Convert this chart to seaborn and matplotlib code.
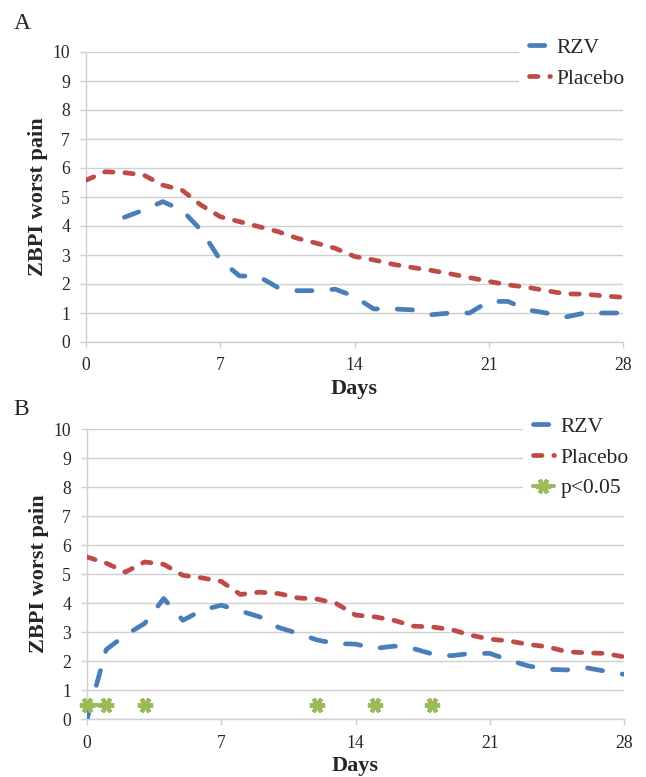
import numpy as np
import pandas as pd
import matplotlib
matplotlib.use("Agg")
import matplotlib.pyplot as plt
import seaborn as sns

# ---------------- data ----------------
days = list(range(0, 29))
nan = np.nan

rzv_a = [nan, nan, 4.30, 4.55, 4.84, 4.55, 3.86, 2.83, 2.28, 2.26, 1.88, 1.77, 1.77, 1.82,
         1.57, 1.14, 1.14, 1.11, 0.94, 1.00, 1.00, 1.40, 1.40, 1.11, 1.00, 0.86, 1.00, 1.00, 1.00]
placebo_a = [5.58, 5.87, 5.84, 5.76, 5.41, 5.24, 4.72, 4.32, 4.15, 3.98, 3.81, 3.58, 3.41, 3.23,
             2.95, 2.83, 2.68, 2.57, 2.47, 2.35, 2.22, 2.09, 1.97, 1.89, 1.77, 1.66, 1.65, 1.59, 1.54]

rzv_b = [0.00, 2.40, 2.90, 3.30, 4.16, 3.41, 3.76, 3.93, 3.73, 3.53, 3.16, 2.96, 2.73, 2.61,
         2.59, 2.44, 2.52, 2.44, 2.25, 2.19, 2.27, 2.27, 2.04, 1.84, 1.72, 1.70, 1.78, 1.66, 1.55]
placebo_b = [5.59, 5.38, 5.07, 5.42, 5.34, 4.96, 4.87, 4.75, 4.30, 4.38, 4.33, 4.18, 4.14, 3.99,
             3.59, 3.53, 3.41, 3.21, 3.18, 3.09, 2.90, 2.76, 2.70, 2.58, 2.50, 2.33, 2.29, 2.27, 2.15]
sig_days = [0, 1, 3, 12, 15, 18]
sig_level = 0.5

x_ticks = [0, 7, 14, 21, 28]
y_ticks = list(range(0, 11))
panel_labels = ["A", "B"]
series_labels = ["RZV", "Placebo", "p<0.05"]
x_label = "Days"
y_label = "ZBPI worst pain"

# ---------------- style ----------------
sns.set_style("white")
plt.rcParams["font.family"] = ["Liberation Serif", "DejaVu Serif"]

BLUE = "#4A7EBB"
RED = "#BE4B48"
GREEN = "#9BBB59"
GRID = "#D0D0D0"

fig = plt.figure(figsize=(6.46, 7.77), dpi=100)
W, H = 646, 777

def make_axes(left, right, top, bottom):
    return fig.add_axes([left / W, 1 - bottom / H, (right - left) / W, (bottom - top) / H])

ax_a = make_axes(86, 623, 52, 342)
ax_b = make_axes(87, 624, 429, 719.3)

lw = 3.4
blue_ls = (0, (3.25, 4.2))
red_ls = (0, (1.8, 2.5))

def style_axes(ax):
    ax.set_xlim(0, 28)
    ax.set_ylim(0, 10)
    ax.set_xticks(x_ticks)
    ax.set_yticks(y_ticks)
    ax.grid(axis="y", color=GRID, lw=1.0, zorder=0)
    ax.grid(axis="x", visible=False)
    ax.set_axisbelow(True)
    for s in ["top", "right"]:
        ax.spines[s].set_visible(False)
    for s in ["left", "bottom"]:
        ax.spines[s].set_color(GRID)
        ax.spines[s].set_linewidth(1.0)
    ax.tick_params(axis="x", direction="out", length=4, width=1, color=GRID,
                   labelsize=12.7, pad=7, bottom=True)
    ax.tick_params(axis="y", direction="out", length=4.5, width=1, color=GRID,
                   labelsize=12.7, pad=7, left=True)
    ax.set_xlabel(x_label, fontsize=16, fontweight="bold")
    ax.set_ylabel(y_label, fontsize=16, fontweight="bold")
    ax.xaxis.set_label_coords(0.5, -0.128)
    ax.yaxis.set_label_coords(-0.071, 0.5)
    ax.xaxis.label.set_va("top")

def draw_pair(ax, rzv, plc):
    df = pd.DataFrame({"day": days, "RZV": rzv, "Placebo": plc})
    sns.lineplot(data=df, x="day", y="RZV", ax=ax, color=BLUE, lw=lw,
                 linestyle=blue_ls, dash_capstyle="round", label=series_labels[0],
                 legend=False, zorder=3)
    sns.lineplot(data=df, x="day", y="Placebo", ax=ax, color=RED, lw=lw,
                 linestyle=red_ls, dash_capstyle="round", label=series_labels[1],
                 legend=False, zorder=3)

draw_pair(ax_a, rzv_a, placebo_a)
draw_pair(ax_b, rzv_b, placebo_b)

# significance markers: consecutive days are joined by a line
sig_df = pd.DataFrame({"day": sig_days, "p": [sig_level] * len(sig_days)})
sig_df["run"] = (sig_df["day"].diff() != 1).cumsum()
sns.lineplot(data=sig_df, x="day", y="p", units="run", estimator=None, ax=ax_b,
             color=GREEN, lw=3.0, marker=(6, 2, 90), markersize=11, mew=3.0,
             mec=GREEN, mfc=GREEN, label=series_labels[2], legend=False,
             zorder=4, clip_on=False)

for ax in (ax_a, ax_b):
    style_axes(ax)

def add_legend(ax, anchor):
    h, l = ax.get_legend_handles_labels()
    d = {}
    for hh, ll in zip(h, l):
        d.setdefault(ll, hh)
    leg = ax.legend(list(d.values()), list(d.keys()), loc="upper left",
                    bbox_to_anchor=anchor, frameon=True, facecolor="white",
                    edgecolor="none", framealpha=1, fontsize=15.5,
                    handlelength=1.0, handletextpad=0.3, labelspacing=0.5,
                    borderpad=0.45, borderaxespad=0, fancybox=False)
    leg.set_zorder(10)

add_legend(ax_a, (0.806, 1.083))
add_legend(ax_b, (0.812, 1.076))

fig.text(14 / W, 1 - 29 / H, panel_labels[0], fontsize=17, va="baseline", ha="left")
fig.text(13 / W, 1 - 415 / H, panel_labels[1], fontsize=17, va="baseline", ha="left")

fig.savefig("out.png", dpi=100, facecolor="white")
